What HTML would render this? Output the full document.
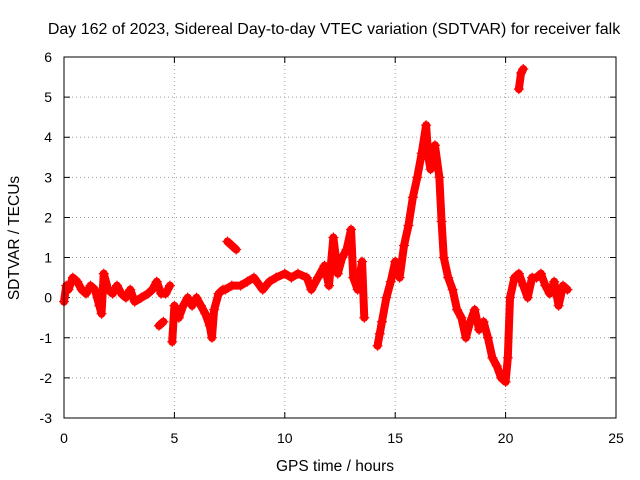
<!DOCTYPE html>
<html><head><meta charset="utf-8">
<style>
html,body{margin:0;padding:0;background:#fff;}
svg{display:block;font-family:"Liberation Sans",sans-serif;}
</style></head>
<body>
<svg id="chart" width="640" height="480" xmlns="http://www.w3.org/2000/svg">
<text x="334" y="34" font-size="16" text-anchor="middle">Day 162 of 2023, Sidereal Day-to-day VTEC variation (SDTVAR) for receiver falk</text>
<text x="335" y="471" font-size="15.5" text-anchor="middle">GPS time / hours</text>
<text transform="translate(19,238) rotate(-90)" font-size="15.5" text-anchor="middle">SDTVAR / TECUs</text>
<g id="grid"></g>
<g id="ticks"></g>
<g id="marks"></g>
<rect x="64" y="57" width="552" height="361" fill="none" stroke="#000" stroke-width="1"/>
</svg>
<script>
const xTicks=[0,5,10,15,20,25];
const yTicks=[-3,-2,-1,0,1,2,3,4,5,6];
const seg1T=[0,0.1,0.2,0.4,0.6,0.8,1.0,1.2,1.4,1.6,1.7,1.8,2.0,2.2,2.4,2.6,2.8,3.0,3.2,3.5,3.8,4.0,4.2,4.4,4.6,4.8];
const seg1V=[-0.1,0.3,0.2,0.5,0.4,0.2,0.1,0.3,0.2,-0.2,-0.4,0.6,0.2,0.1,0.3,0.1,0.0,0.2,-0.1,0.0,0.1,0.2,0.4,0.1,0.1,0.3];
const seg2T=[4.3,4.5];
const seg2V=[-0.7,-0.6];
const seg3T=[4.9,5.0,5.2,5.4,5.6,5.8,6.0,6.2,6.4,6.6,6.7,6.8,7.0,7.2];
const seg3V=[-1.1,-0.2,-0.5,-0.2,0.0,-0.2,0.0,-0.2,-0.4,-0.7,-1.0,-0.3,0.1,0.2];
const seg4T=[7.4,7.6,7.8];
const seg4V=[1.4,1.3,1.2];
const seg5T=[7.3,7.6,8.0,8.3,8.6,9.0,9.3,9.6,10.0,10.3,10.6,11.0,11.2,11.5,11.8,12.0,12.2,12.4,12.6,12.8,13.0,13.1,13.3,13.5,13.6];
const seg5V=[0.2,0.3,0.3,0.4,0.5,0.2,0.4,0.5,0.6,0.5,0.6,0.5,0.2,0.5,0.8,0.3,1.5,0.6,1.0,1.2,1.7,0.5,0.2,0.9,-0.5];
const seg6T=[14.2,14.3,14.4,14.6,14.8,15.0,15.2,15.4,15.6,15.8,16.0,16.2,16.4,16.5,16.6,16.8,17.0,17.1,17.2,17.4,17.6,17.8,18.0,18.2,18.4,18.6,18.8,19.0,19.2,19.4,19.6,19.8,20.0,20.1,20.2,20.4,20.6,20.8,21.0,21.2,21.4,21.6,21.8,22.0,22.2,22.4,22.6,22.8];
const seg6V=[-1.2,-0.9,-0.6,0.0,0.4,0.9,0.5,1.3,1.8,2.5,3.0,3.6,4.3,3.5,3.2,3.8,3.0,1.9,1.0,0.5,0.2,-0.3,-0.5,-1.0,-0.6,-0.3,-0.8,-0.6,-1.0,-1.5,-1.7,-2.0,-2.1,-1.5,0.0,0.5,0.6,0.3,0.0,0.5,0.5,0.6,0.3,0.1,0.4,-0.2,0.3,0.2];
const seg7T=[20.6,20.7,20.8];
const seg7V=[5.2,5.6,5.7];
const segments=[[seg1T,seg1V],[seg2T,seg2V],[seg3T,seg3V],[seg4T,seg4V],[seg5T,seg5V],[seg6T,seg6V],[seg7T,seg7V]];

const X0=64,X1=616,Y0=418,Y1=57,XMIN=0,XMAX=25,YMIN=-3,YMAX=6;
const sx=v=>X0+(v-XMIN)/(XMAX-XMIN)*(X1-X0);
const sy=v=>Y0-(v-YMIN)/(YMAX-YMIN)*(Y0-Y1);
const NS="http://www.w3.org/2000/svg";
const grid=document.getElementById('grid'),ticks=document.getElementById('ticks'),marks=document.getElementById('marks');
function mk(tag,attrs,parent){const e=document.createElementNS(NS,tag);for(const k in attrs)e.setAttribute(k,attrs[k]);parent.appendChild(e);return e;}
xTicks.forEach(t=>{
  const x=sx(t);
  if(t>XMIN&&t<XMAX){const g=mk('line',{x1:x,x2:x,y1:Y0,y2:Y1,stroke:'#a0a0a0','stroke-dasharray':'1,3'},grid);
  
  }
  const tk=mk('path',{d:`M${x},${Y0}v-6M${x},${Y1}v6`,stroke:'#000'},ticks);
  
  
  const l=mk('text',{x:x,y:443,'font-size':14,'text-anchor':'middle'},ticks);l.textContent=t;
  
  
});
yTicks.forEach(t=>{
  const y=sy(t);
  if(t>YMIN&&t<YMAX){const g=mk('line',{x1:X0,x2:X1,y1:y,y2:y,stroke:'#a0a0a0','stroke-dasharray':'1,3'},grid);
  
  }
  const tk=mk('path',{d:`M${X0},${y}h6M${X1},${y}h-6`,stroke:'#000'},ticks);
  
  
  const l=mk('text',{x:52,y:y+5,'font-size':14,'text-anchor':'end'},ticks);l.textContent=t;
  
  
});
segments.forEach(([T,V])=>{
  const pts=T.map((t,i)=>sx(t)+','+sy(V[i])).join(' ');
  const pl=mk('polyline',{points:pts,fill:'none',stroke:'#ff0000','stroke-width':8,'stroke-linejoin':'round','stroke-linecap':'round'},marks);
  
  
  T.forEach((t,i)=>{
    const x=sx(t),y=sy(V[i]);
    const p=mk('path',{d:`M${x-5},${y}h10M${x},${y-5}v10`,stroke:'#ff0000','stroke-width':1.2},marks);
    
    
  });
});
</script>
</body></html>
